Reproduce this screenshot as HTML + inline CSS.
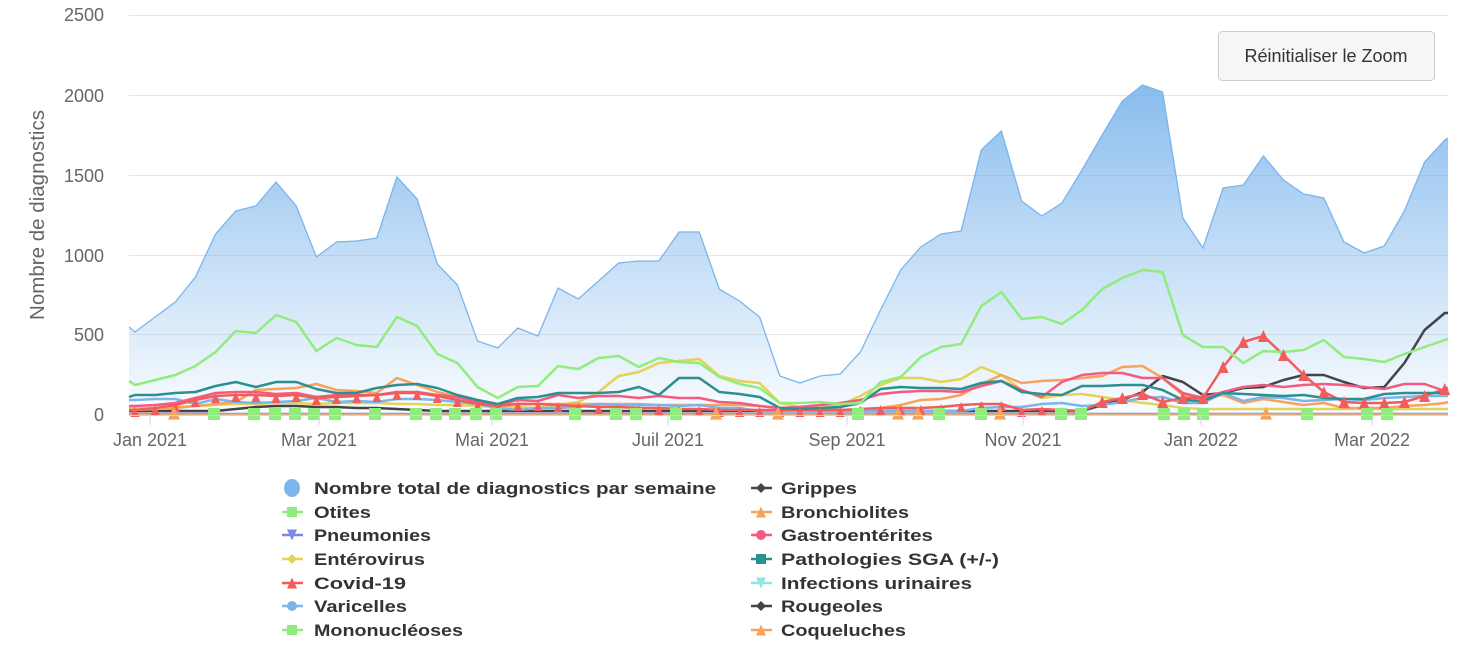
<!DOCTYPE html>
<html><head><meta charset="utf-8"><style>
html,body{margin:0;padding:0;background:#fff;}
svg{display:block;font-family:"Liberation Sans",Arial,sans-serif;}
</style></head><body>
<svg id="c" width="1472" height="655" viewBox="0 0 1472 655" xmlns="http://www.w3.org/2000/svg">
<defs>
<linearGradient id="g" x1="0" y1="85" x2="0" y2="415" gradientUnits="userSpaceOnUse">
<stop offset="0" stop-color="#7cb5ec" stop-opacity="0.9"/>
<stop offset="1" stop-color="#7cb5ec" stop-opacity="0.04"/>
</linearGradient>
</defs>
<g stroke="#e6e6e6" stroke-width="1">
<line x1="129" y1="15.5" x2="1448" y2="15.5"/>
<line x1="129" y1="95.5" x2="1448" y2="95.5"/>
<line x1="129" y1="175.5" x2="1448" y2="175.5"/>
<line x1="129" y1="255.5" x2="1448" y2="255.5"/>
<line x1="129" y1="334.5" x2="1448" y2="334.5"/>
</g>
<g fill="#666" font-size="18" text-anchor="end">
<text x="104" y="21">2500</text>
<text x="104" y="102">2000</text>
<text x="104" y="182">1500</text>
<text x="104" y="262">1000</text>
<text x="104" y="341">500</text>
<text x="104" y="421">0</text>
</g>
<text transform="translate(44,215) rotate(-90)" fill="#666" font-size="20" text-anchor="middle" textLength="210" lengthAdjust="spacingAndGlyphs">Nombre de diagnostics</text>
<g id="series"></g>
<line x1="129" y1="415.5" x2="1448" y2="415.5" stroke="#ccd6eb"/>
<g stroke="#ccd6eb">
<line x1="150" y1="416" x2="150" y2="425"/><line x1="319" y1="416" x2="319" y2="425"/>
<line x1="492" y1="416" x2="492" y2="425"/><line x1="668" y1="416" x2="668" y2="425"/>
<line x1="847" y1="416" x2="847" y2="425"/><line x1="1023" y1="416" x2="1023" y2="425"/>
<line x1="1201" y1="416" x2="1201" y2="425"/><line x1="1372" y1="416" x2="1372" y2="425"/>
</g>
<g fill="#666" font-size="18" text-anchor="middle">
<text x="150" y="446">Jan 2021</text><text x="319" y="446">Mar 2021</text>
<text x="492" y="446">Mai 2021</text><text x="668" y="446">Juil 2021</text>
<text x="847" y="446">Sep 2021</text><text x="1023" y="446">Nov 2021</text>
<text x="1201" y="446">Jan 2022</text><text x="1372" y="446">Mar 2022</text>
</g>
<rect x="1218.5" y="31.5" width="216" height="49" rx="4" fill="#f7f7f7" stroke="#cccccc"/>
<text x="1326" y="62" fill="#333" font-size="18" text-anchor="middle">Réinitialiser le Zoom</text>
<g id="legend"></g>
<g font-size="17" font-weight="bold" fill="#333">
<text x="314" y="494" textLength="402" lengthAdjust="spacingAndGlyphs">Nombre total de diagnostics par semaine</text>
<text x="314" y="518" textLength="57" lengthAdjust="spacingAndGlyphs">Otites</text>
<text x="314" y="541" textLength="117" lengthAdjust="spacingAndGlyphs">Pneumonies</text>
<text x="314" y="565" textLength="111" lengthAdjust="spacingAndGlyphs">Entérovirus</text>
<text x="314" y="589" textLength="92" lengthAdjust="spacingAndGlyphs">Covid-19</text>
<text x="314" y="612" textLength="93" lengthAdjust="spacingAndGlyphs">Varicelles</text>
<text x="314" y="636" textLength="149" lengthAdjust="spacingAndGlyphs">Mononucléoses</text>
<text x="781" y="494" textLength="76" lengthAdjust="spacingAndGlyphs">Grippes</text>
<text x="781" y="518" textLength="128" lengthAdjust="spacingAndGlyphs">Bronchiolites</text>
<text x="781" y="541" textLength="152" lengthAdjust="spacingAndGlyphs">Gastroentérites</text>
<text x="781" y="565" textLength="218" lengthAdjust="spacingAndGlyphs">Pathologies SGA (+/-)</text>
<text x="781" y="589" textLength="191" lengthAdjust="spacingAndGlyphs">Infections urinaires</text>
<text x="781" y="612" textLength="102" lengthAdjust="spacingAndGlyphs">Rougeoles</text>
<text x="781" y="636" textLength="125" lengthAdjust="spacingAndGlyphs">Coqueluches</text>
</g>
</svg>
<script>
(function(){
var NS="http://www.w3.org/2000/svg";
var S=document.getElementById("series"), L=document.getElementById("legend");
function X(j){return 135+20.15*j;}
function el(p,tag,a){var e=document.createElementNS(NS,tag);for(var k in a)e.setAttribute(k,a[k]);p.appendChild(e);return e;}
function fill(n,v){var a=[];for(var i=0;i<n;i++)a.push(v);return a;}
var total=[332,317,302,277,234,211,206,182,206,257,242,241,238,177,199,264,285,341,348,328,336,288,299,281,263,261,261,232,232,289,301,317,376,383,376,374,352,310,270,247,234,231,150,131,201,216,203,170,135,101,85,92,218,248,188,185,156,180,194,198,242,253,246,211,162,140];
var green=[385,380,375,366,352,331,333,315,322,351,338,345,347,317,326,354,363,387,398,387,386,366,369,358,356,367,358,362,363,377,384,388,403,403,402,404,403,382,377,357,347,344,306,292,319,317,324,310,289,278,270,272,335,347,347,363,351,352,350,340,357,359,362,354,347,340];
var teal=[395,395,393,392,386,382,387,382,382,389,393,393,388,385,384,388,395,400,404,398,397,393,393,393,392,387,395,378,378,392,394,397,408,409,408,407,403,389,387,388,388,389,383,381,392,394,395,386,386,385,385,390,400,401,393,394,395,396,395,398,399,399,394,393,393,393];
var yellow=[408,408,407,406,405,404,404,403,403,404,403,403,403,404,404,405,405,406,407,407,408,405,402,392,376,372,363,361,359,376,381,383,403,407,408,405,396,385,378,378,382,379,367,375,390,398,395,394,397,400,403,405,408].concat(fill(13,409));
var orange=[410,409,408,406,404,402,390,389,388,384,390,391,393,378,385,392,397,402,405,404,404,404,404,404,404,404,405,405,405,405,405,406,408,409,409,410,410,408,405,400,399,395,384,375,383,381,380,378,376,367,366,378,395,397,395,403,399,402,405,403,408,408,408,406,405,403];
var pink=[406,405,403,398,393,392,392,394,393,397,395,395,395,392,392,395,397,402,405,400,401,395,398,396,396,398,396,398,398,402,403,406,408,407,405,403,400,394,392,391,391,392,386,381,390,397,382,375,373,373,378,378,393,398,392,387,385,387,385,384,385,387,389,384,384,391];
var covid=[410,408,405,400,396,395,395,396,395,398,397,396,395,393,393,396,400,404,406,404,404,405,406,407,407,408,408,409,409,410,410,410,410,410,410,410,409,408,408,408,407,405,404,404,410,409,410,411,402,398,394,402,398,398,367,342,336,355,375,392,402,403,403,402,396,389];
var black=fill(5,411).concat([409,407,406,406,407,407,408,408,409,410]).concat(fill(33,411)).concat([405,400,392,376,382,395,393,388,387,380,375,375,382,388,387,363,330,313]);
var blue=[400,399,399,404,399,402,403,402,401,398,402,401,402,399,399,400,402,404,408,410,408,408,407,404,405,405,405,406,405,408,408,411,411].concat(fill(9,411)).concat([408,407,407,404,403,406,405,402,398,397,403,403,393,401,397,398,401,400,399,400,398,397,396,396]);
function pts(a,s,e){var p=[];p.push([129,s]);for(var j=0;j<a.length;j++)p.push([X(j),a[j]]);p.push([1448,e]);return p;}
function d(p){return "M"+p.map(function(q){return q[0].toFixed(1)+" "+q[1];}).join(" L");}
var tp=pts(total,327,138);
el(S,"path",{d:d(tp)+" L1448 415 L129 415 Z",fill:"url(#g)"});
el(S,"path",{d:d(tp),fill:"none",stroke:"#7cb5ec","stroke-width":1.3});
function line(a,s,e,c,w){el(S,"path",{d:d(pts(a,s,e)),fill:"none",stroke:c,"stroke-width":w||2.5,"stroke-linejoin":"round"});}
line(fill(66,414),414,414,"#91e8e1",1.5);
line(fill(66,413.5),413.5,413.5,"#8085e9",1.5);
line(fill(66,414.5),414.5,414.5,"#e0b080",2);
line(black,411,313,"#434348");
line(yellow,408,409,"#e4d354");
line(orange,410,402,"#f7a35c");
line(blue,400,396,"#7cb5ec");
line(pink,406,390,"#f15c80");
line(covid,410,388,"#f45b5b");
line(teal,397,393,"#2b908f");
line(green,381,339,"#90ed7d");
function tri(p,x,y,r,c,down){var h=r*1.1;var a=down?[[x-r,y-h],[x+r,y-h],[x,y+h]]:[[x-r,y+h],[x+r,y+h],[x,y-h]];el(p,"path",{d:"M"+a.join(" L")+"Z",fill:c});}
for(var j=0;j<covid.length;j++){if(j>=48) tri(S,X(j),covid[j],5.5,"#f45b5b"); else tri(S,X(j),Math.min(covid[j]+2,412),4.5,"#f45b5b");}
var sq=[214,254,275,295,314,335,375,416,436,455,476,496,575,616,636,676,858,939,981,1061,1081,1164,1184,1203,1307,1367,1387];
sq.forEach(function(x){el(S,"rect",{x:x-6,y:408,width:12,height:12,fill:"#90ed7d"});});
var ot=[174,716,778,898,918,1000,1266];
ot.forEach(function(x){tri(S,x,413,6,"#f7a35c");});
var rows=[488,512,535,559,583,606,630];
function lg(x,y,c,kind){el(L,"line",{x1:x-10,y1:y,x2:x+11,y2:y,stroke:c,"stroke-width":2.5});
 if(kind=="sq")el(L,"rect",{x:x-5,y:y-5,width:10,height:10,fill:c});
 else if(kind=="ci")el(L,"circle",{cx:x,cy:y,r:5,fill:c});
 else if(kind=="di")el(L,"path",{d:"M"+x+" "+(y-5)+" L"+(x+5)+" "+y+" L"+x+" "+(y+5)+" L"+(x-5)+" "+y+"Z",fill:c});
 else if(kind=="tu")tri(L,x,y,5,c);
 else if(kind=="td")tri(L,x,y,5,c,true);}
el(L,"ellipse",{cx:292,cy:488,rx:8,ry:9,fill:"#7cb5ec"});
lg(292,rows[1],"#90ed7d","sq");lg(292,rows[2],"#8085e9","td");lg(292,rows[3],"#e4d354","di");
lg(292,rows[4],"#f45b5b","tu");lg(292,rows[5],"#7cb5ec","ci");lg(292,rows[6],"#90ed7d","sq");
lg(761,rows[0],"#434348","di");lg(761,rows[1],"#f7a35c","tu");lg(761,rows[2],"#f15c80","ci");
lg(761,rows[3],"#2b908f","sq");lg(761,rows[4],"#91e8e1","td");lg(761,rows[5],"#434348","di");lg(761,rows[6],"#f7a35c","tu");
})();
</script>
</body></html>
